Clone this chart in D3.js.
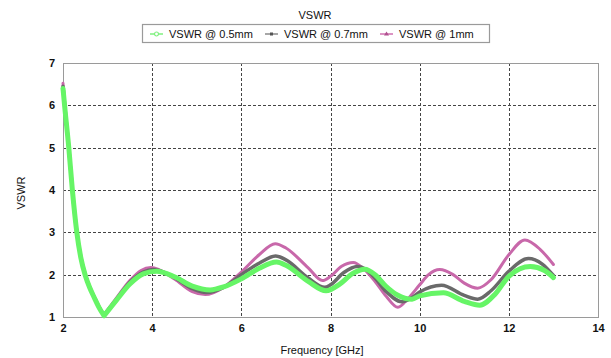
<!DOCTYPE html>
<html>
<head>
<meta charset="utf-8">
<script src="https://cdn.jsdelivr.net/npm/d3@7/dist/d3.min.js"></script>
<style>
  html, body { margin: 0; padding: 0; background: #fff; }
  svg { display: block; font-family: "Liberation Sans", Arial, sans-serif; }
</style>
</head>
<body>
<svg id="chart" width="611" height="358"></svg>
<script>
// ---- data ----
const chartTitle = "VSWR";
const xLabel = "Frequency [GHz]";
const yLabel = "VSWR";
const xTicks = [2, 4, 6, 8, 10, 12, 14];
const yTicks = [1, 2, 3, 4, 5, 6, 7];
const seriesNames = ["VSWR @ 0.5mm", "VSWR @ 0.7mm", "VSWR @ 1mm"];

const freq05 = [2.0, 2.04, 2.13, 2.21, 2.31, 2.4, 2.5, 2.6, 2.7, 2.8, 2.92, 3.2, 3.5, 3.8, 4.1, 4.5, 4.9, 5.3, 5.6, 6.0, 6.4, 6.79, 7.0, 7.5, 7.9, 8.2, 8.5, 8.77, 9.0, 9.25, 9.5, 9.83, 10.0, 10.53, 11.0, 11.35, 11.7, 12.0, 12.48, 12.8, 13.0];
const vswr05 = [6.40, 5.95, 5.0, 4.0, 3.0, 2.40, 1.98, 1.69, 1.46, 1.24, 1.03, 1.40, 1.78, 2.02, 2.08, 1.95, 1.73, 1.64, 1.71, 1.90, 2.15, 2.30, 2.22, 1.84, 1.62, 1.77, 2.03, 2.13, 2.00, 1.72, 1.52, 1.42, 1.50, 1.57, 1.37, 1.28, 1.55, 1.96, 2.19, 2.10, 1.93];

const freq07 = [2.0, 2.04, 2.13, 2.21, 2.31, 2.4, 2.5, 2.6, 2.7, 2.8, 2.92, 3.2, 3.5, 3.8, 4.03, 4.5, 4.9, 5.22, 5.6, 6.0, 6.4, 6.77, 7.0, 7.5, 7.87, 8.0, 8.3, 8.6, 8.8, 9.0, 9.25, 9.6, 9.8, 10.0, 10.49, 11.0, 11.3, 11.6, 12.0, 12.44, 12.75, 13.0];
const vswr07 = [6.45, 5.98, 5.0, 4.0, 3.0, 2.41, 1.99, 1.70, 1.47, 1.25, 1.04, 1.42, 1.82, 2.06, 2.12, 1.93, 1.67, 1.58, 1.70, 2.00, 2.27, 2.44, 2.35, 1.92, 1.70, 1.76, 2.05, 2.19, 2.12, 1.92, 1.60, 1.36, 1.44, 1.59, 1.75, 1.51, 1.42, 1.62, 2.08, 2.38, 2.25, 1.98];

const freq10 = [2.0, 2.04, 2.13, 2.21, 2.31, 2.4, 2.5, 2.6, 2.7, 2.8, 2.92, 3.2, 3.5, 3.75, 3.97, 4.5, 4.9, 5.19, 5.6, 6.0, 6.4, 6.76, 7.0, 7.5, 7.82, 8.0, 8.25, 8.51, 8.75, 9.0, 9.25, 9.51, 9.75, 10.0, 10.2, 10.45, 10.75, 11.0, 11.3, 11.6, 12.0, 12.36, 12.7, 13.0];
const vswr10 = [6.52, 6.0, 5.0, 4.0, 3.0, 2.42, 2.00, 1.71, 1.48, 1.26, 1.05, 1.45, 1.86, 2.10, 2.17, 1.90, 1.60, 1.53, 1.70, 2.06, 2.47, 2.73, 2.63, 2.16, 1.86, 1.96, 2.20, 2.29, 2.13, 1.84, 1.49, 1.23, 1.45, 1.76, 2.00, 2.12, 2.00, 1.80, 1.68, 1.88, 2.47, 2.82, 2.60, 2.24];

const seriesColors = ["#66f566", "#6a6a6a", "#c868aa"];
const legendColors = ["#7ff07f", "#8a8a8a", "#d070b0"];

// ---- layout ----
const svg = d3.select("#chart");
const plot = { left: 63, right: 598, top: 63, bottom: 317 };

const x = d3.scaleLinear().domain([2, 14]).range([plot.left, plot.right]);
const y = d3.scaleLinear().domain([1, 7]).range([plot.bottom, plot.top]);

// grid lines
const grid = svg.append("g");
grid.selectAll("line.vg").data(xTicks.filter(t => t > 2 && t < 14)).enter()
  .append("line")
  .attr("x1", d => Math.round(x(d)) + 0.5).attr("x2", d => Math.round(x(d)) + 0.5)
  .attr("y1", plot.top).attr("y2", plot.bottom)
  .attr("stroke", "#444").attr("stroke-width", 1).attr("stroke-dasharray", "3,2");
grid.selectAll("line.hg").data(yTicks.filter(t => t > 1 && t < 7)).enter()
  .append("line")
  .attr("x1", plot.left).attr("x2", plot.right)
  .attr("y1", d => Math.round(y(d)) + 0.5).attr("y2", d => Math.round(y(d)) + 0.5)
  .attr("stroke", "#444").attr("stroke-width", 1).attr("stroke-dasharray", "3,2");

// frame
svg.append("rect")
  .attr("x", plot.left + 0.5).attr("y", plot.top + 0.5)
  .attr("width", plot.right - plot.left).attr("height", plot.bottom - plot.top)
  .attr("fill", "none").attr("stroke", "#9a9a9a").attr("stroke-width", 1);

// axes
const xAxis = d3.axisBottom(x).tickValues(xTicks).tickSize(0).tickPadding(7).tickFormat(d3.format("d"));
const yAxis = d3.axisLeft(y).tickValues(yTicks).tickSize(0).tickPadding(8).tickFormat(d3.format("d"));
const gx = svg.append("g").attr("transform", `translate(0,${plot.bottom})`).call(xAxis);
const gy = svg.append("g").attr("transform", `translate(${plot.left},0)`).call(yAxis);
[gx, gy].forEach(g => {
  g.select(".domain").remove();
  g.selectAll("text").attr("font-size", 11).attr("font-weight", "bold")
    .attr("font-family", "'Liberation Sans', Arial, sans-serif").attr("fill", "#111");
});

// lines (split at the sharp resonance dip so the V stays pointed)
const line = d3.line().x(d => x(d[0])).y(d => y(d[1])).curve(d3.curveMonotoneX);
const series = [
  { f: freq10, v: vswr10, color: seriesColors[2], w: 3 },
  { f: freq07, v: vswr07, color: seriesColors[1], w: 3.5 },
  { f: freq05, v: vswr05, color: seriesColors[0], w: 5 }
];
series.forEach(s => {
  const pts = s.f.map((f, i) => [f, s.v[i]]);
  const dipIdx = pts.findIndex(p => p[0] === 2.92);
  const d = line(pts.slice(0, dipIdx + 1)) + line(pts.slice(dipIdx));
  svg.append("path")
    .attr("d", d)
    .attr("fill", "none")
    .attr("stroke", s.color)
    .attr("stroke-width", s.w)
    .attr("stroke-linejoin", "round")
    .attr("stroke-linecap", "round");
});

// title
svg.append("text").attr("x", 315).attr("y", 19).attr("text-anchor", "middle")
  .attr("font-size", 11).attr("fill", "#111").text(chartTitle);

// axis labels
svg.append("text").attr("x", 322).attr("y", 354).attr("text-anchor", "middle")
  .attr("font-size", 11).attr("fill", "#111").text(xLabel);
svg.append("text").attr("transform", "translate(25,193) rotate(-90)").attr("text-anchor", "middle")
  .attr("font-size", 11).attr("fill", "#111").text(yLabel);

// legend
const lg = svg.append("g");
lg.append("rect").attr("x", 142.5).attr("y", 24.5).attr("width", 347).attr("height", 18)
  .attr("fill", "#fff").attr("stroke", "#9a9a9a").attr("stroke-width", 1.2);
const legendX = [150, 265, 380];
seriesNames.forEach((n, i) => {
  const g = lg.append("g").attr("transform", `translate(${legendX[i]},34)`);
  g.append("line").attr("x1", 0).attr("x2", 13).attr("y1", 0).attr("y2", 0)
    .attr("stroke", legendColors[i]).attr("stroke-width", 1.5);
  if (i === 0) {
    g.append("circle").attr("cx", 6.5).attr("cy", 0).attr("r", 2).attr("fill", "#fff")
      .attr("stroke", legendColors[i]).attr("stroke-width", 1.2);
  } else if (i === 1) {
    g.append("rect").attr("x", 5).attr("y", -1.5).attr("width", 3).attr("height", 3).attr("fill", "#555");
  } else {
    g.append("path").attr("d", "M6.5,-2.5 L9,1.5 L4,1.5 Z").attr("fill", "#b0508f");
  }
  g.append("text").attr("x", 19).attr("y", 4).attr("font-size", 11).attr("fill", "#111").text(n);
});
</script>
</body>
</html>
